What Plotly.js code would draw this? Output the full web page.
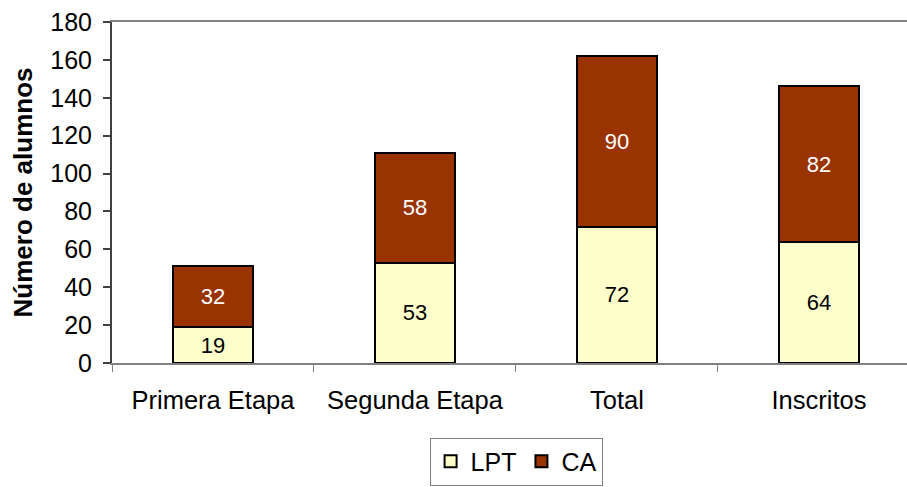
<!DOCTYPE html>
<html>
<head>
<meta charset="utf-8">
<script src="https://cdn.plot.ly/plotly-3.0.1.min.js"></script>
<style>html,body{margin:0;padding:0;background:#fff;}#chart{width:907px;height:487px;}</style>
</head>
<body>
<div id="chart"></div>
<script>
const categories = ["Primera Etapa", "Segunda Etapa", "Total", "Inscritos"];
const lptValues = [19, 53, 72, 64];
const caValues = [32, 58, 90, 82];
const yTicks = [0, 20, 40, 60, 80, 100, 120, 140, 160, 180];

const FONT = "Liberation Sans, Arial, sans-serif";

const traces = [
  {
    type: "bar", name: "LPT", x: categories, y: lptValues,
    text: lptValues.map(String), textposition: "inside", insidetextanchor: "middle",
    textangle: 0, constraintext: "none",
    textfont: {family: FONT, size: 22, color: "#000000"},
    marker: {color: "#FFFFCC", line: {color: "#000000", width: 2}},
    hoverinfo: "none"
  },
  {
    type: "bar", name: "CA", x: categories, y: caValues,
    text: caValues.map(String), textposition: "inside", insidetextanchor: "middle",
    textangle: 0, constraintext: "none",
    textfont: {family: FONT, size: 22, color: "#FFFFFF"},
    marker: {color: "#993300", line: {color: "#000000", width: 2}},
    hoverinfo: "none"
  }
];

const layout = {
  width: 907, height: 487,
  margin: {l: 112, r: 0, t: 22, b: 124, autoexpand: false},
  paper_bgcolor: "#ffffff", plot_bgcolor: "#ffffff",
  barmode: "stack", bargap: 0.604,
  font: {family: FONT, size: 25, color: "#000000"},
  showlegend: true,
  legend: {
    orientation: "h", xref: "container", x: 0.569, xanchor: "center",
    yref: "container", y: 0.003, yanchor: "bottom",
    bordercolor: "#808080", borderwidth: 1, bgcolor: "#ffffff",
    font: {family: FONT, size: 25, color: "#000000"},
    traceorder: "normal", itemclick: false, itemdoubleclick: false,
    itemwidth: 30, tracegroupgap: 0
  },
  xaxis: {
    type: "category", range: [-0.5, 3.436], fixedrange: true,
    showline: true, linecolor: "#808080", linewidth: 2, mirror: true,
    ticks: "outside", tickson: "boundaries", ticklen: 7, tickcolor: "#808080", tickwidth: 1,
    showgrid: false, zeroline: false,
    tickfont: {family: FONT, size: 25.5, color: "#000000"},
    ticklabelstandoff: 13
  },
  yaxis: {
    range: [0, 180], tickvals: yTicks, ticktext: yTicks.map(String), fixedrange: true,
    showline: true, linecolor: "#404040", linewidth: 2,
    ticks: "outside", ticklen: 7, tickcolor: "#404040", tickwidth: 2,
    showgrid: false, zeroline: false,
    tickfont: {family: FONT, size: 25, color: "#000000"},
    ticklabelstandoff: 6,
    title: {text: "Número de alumnos", standoff: 10,
            font: {family: FONT, size: 26, color: "#000000", weight: "bold"}}
  }
};

Plotly.newPlot("chart", traces, layout, {displayModeBar: false, staticPlot: true});
</script>
</body>
</html>
